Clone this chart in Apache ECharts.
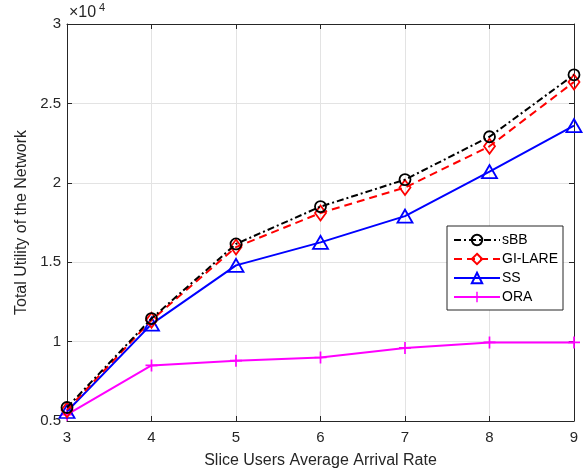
<!DOCTYPE html>
<html lang="en">
<head>
    <meta charset="UTF-8">
    <title>Total Utility</title>
    <script type="text/javascript" src="https://cdn.jsdelivr.net/npm/echarts@6/dist/echarts.min.js"></script>
    <style>
        html, body { margin: 0; padding: 0; background: #fff; }
    </style>
</head>
<body>
<div id="main" style="width: 587px;height:474px;"></div>
<script type="text/javascript">
    // arrival rates on the x axis
    var rates = [3, 4, 5, 6, 7, 8, 9];
    // total utility per scheme
    var sBB    = [5850, 11450, 16150, 18500, 20200, 22900, 26800];
    var giLare = [5700, 11350, 15950, 18100, 19700, 22300, 26350];
    var ss     = [5600, 11100, 14800, 16250, 17900, 20700, 23600];
    var ora    = [5400,  8500,  8800,  9000,  9600,  9950,  9950];

    function pairs(arr) {
        var out = [];
        for (var i = 0; i < rates.length; i++) {
            out.push([rates[i], arr[i]]);
        }
        return out;
    }

    var plusPath = 'path://M4.3,0h1.4v10h-1.4z M0,4.3h10v1.4h-10z';
    var axisCol = '#262626';
    var font = 'Liberation Sans, Arial, sans-serif';

    var myChart = echarts.init(document.getElementById('main'));
    myChart.setOption({
        animation: false,
        backgroundColor: '#fff',
        grid: { left: 67, right: 13, top: 24, bottom: 50, containLabel: false },
        legend: {
            orient: 'vertical',
            left: 447,
            top: 226,
            padding: [7, 5, 6, 6],
            itemGap: 5,
            itemWidth: 46,
            itemHeight: 13,
            backgroundColor: '#fff',
            borderColor: axisCol,
            borderWidth: 1,
            borderRadius: 0,
            textStyle: { fontFamily: font, fontSize: 14, color: '#000', padding: [0, 0, 0, -3] },
            data: ['sBB', 'GI-LARE', 'SS', 'ORA']
        },
        xAxis: [{
            type: 'value',
            min: 3, max: 9, interval: 1,
            name: 'Slice Users Average Arrival Rate',
            nameLocation: 'middle',
            nameGap: 32,
            nameTextStyle: { fontFamily: font, fontSize: 16, color: '#262626' },
            axisLine: { show: true, lineStyle: { color: axisCol } },
            axisTick: { show: true, inside: true, length: 5, lineStyle: { color: axisCol } },
            axisLabel: { fontFamily: font, fontSize: 15, color: '#262626', margin: 9 },
            splitLine: { show: true, lineStyle: { color: '#e3e3e3' } }
        }, {
            type: 'value', position: 'top',
            min: 3, max: 9, interval: 1,
            axisLine: { show: true, onZero: false, lineStyle: { color: axisCol } },
            axisTick: { show: true, inside: true, length: 5, lineStyle: { color: axisCol } },
            axisLabel: { show: false },
            splitLine: { show: false }
        }],
        yAxis: [{
            type: 'value',
            min: 5000, max: 30000, interval: 5000,
            name: 'Total Utility of the Network',
            nameLocation: 'middle',
            nameGap: 36,
            nameTextStyle: { fontFamily: font, fontSize: 16, color: '#262626' },
            axisLine: { show: true, onZero: false, lineStyle: { color: axisCol } },
            axisTick: { show: true, inside: true, length: 5, lineStyle: { color: axisCol } },
            axisLabel: {
                fontFamily: font, fontSize: 15, color: '#262626', margin: 6,
                formatter: function (v) { return String(v / 10000); }
            },
            splitLine: { show: true, lineStyle: { color: '#e3e3e3' } }
        }, {
            type: 'value', position: 'right',
            min: 5000, max: 30000, interval: 5000,
            axisLine: { show: true, onZero: false, lineStyle: { color: axisCol } },
            axisTick: { show: true, inside: true, length: 5, lineStyle: { color: axisCol } },
            axisLabel: { show: false },
            splitLine: { show: false }
        }],
        graphic: [{
            type: 'text',
            left: 69, top: 5,
            style: { text: '\u00d710', fontFamily: font, fontSize: 16, fill: '#262626' }
        }, {
            type: 'text',
            left: 99, top: 2,
            style: { text: '4', fontFamily: font, fontSize: 11, fill: '#262626' }
        }],
        series: [{
            name: 'sBB', type: 'line', data: pairs(sBB),
            symbol: 'circle', symbolSize: 11,
            lineStyle: { color: '#000', width: 2, type: [7, 3, 2, 3] },
            itemStyle: { color: 'rgba(255,255,255,0)', borderColor: '#000', borderWidth: 1.8 },
            z: 4
        }, {
            name: 'GI-LARE', type: 'line', data: pairs(giLare),
            symbol: 'diamond', symbolSize: [11, 15],
            lineStyle: { color: '#ff0000', width: 2, type: [8, 5] },
            itemStyle: { color: 'rgba(255,255,255,0)', borderColor: '#ff0000', borderWidth: 1.8 },
            z: 3
        }, {
            name: 'SS', type: 'line', data: pairs(ss),
            symbol: 'triangle', symbolSize: [15, 13],
            lineStyle: { color: '#0000ff', width: 2 },
            itemStyle: { color: 'rgba(255,255,255,0)', borderColor: '#0000ff', borderWidth: 1.8 },
            z: 2
        }, {
            name: 'ORA', type: 'line', data: pairs(ora),
            symbol: plusPath, symbolSize: 12,
            lineStyle: { color: '#ff00ff', width: 2 },
            itemStyle: { color: '#ff00ff' },
            z: 1
        }]
    });
</script>
</body>
</html>
